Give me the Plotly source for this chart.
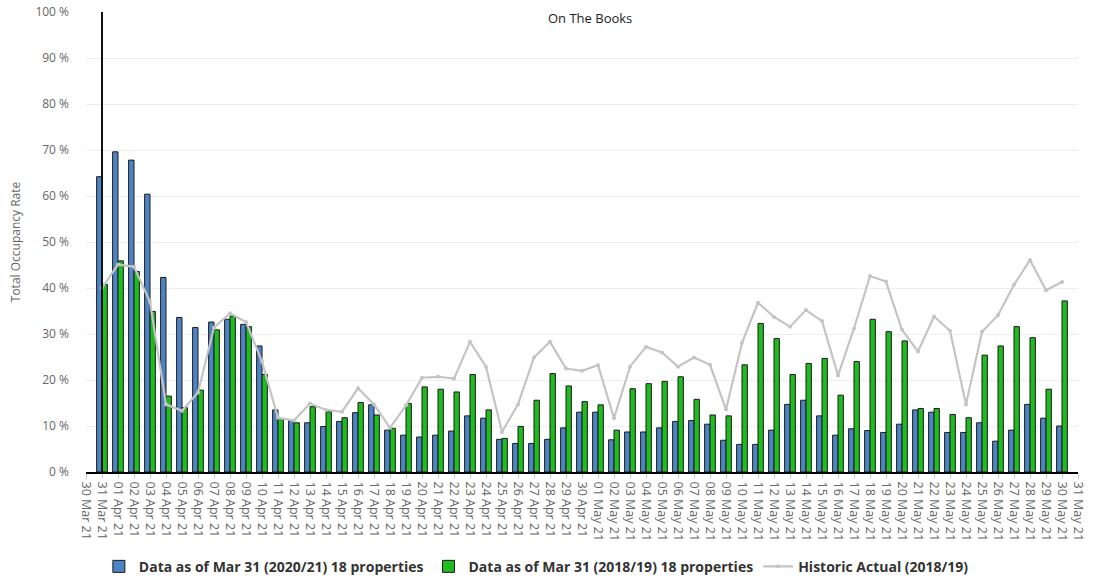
import plotly.graph_objects as go

DATES = [
    "2021-03-31", "2021-04-01", "2021-04-02", "2021-04-03", "2021-04-04", "2021-04-05",
    "2021-04-06", "2021-04-07", "2021-04-08", "2021-04-09", "2021-04-10", "2021-04-11",
    "2021-04-12", "2021-04-13", "2021-04-14", "2021-04-15", "2021-04-16", "2021-04-17",
    "2021-04-18", "2021-04-19", "2021-04-20", "2021-04-21", "2021-04-22", "2021-04-23",
    "2021-04-24", "2021-04-25", "2021-04-26", "2021-04-27", "2021-04-28", "2021-04-29",
    "2021-04-30", "2021-05-01", "2021-05-02", "2021-05-03", "2021-05-04", "2021-05-05",
    "2021-05-06", "2021-05-07", "2021-05-08", "2021-05-09", "2021-05-10", "2021-05-11",
    "2021-05-12", "2021-05-13", "2021-05-14", "2021-05-15", "2021-05-16", "2021-05-17",
    "2021-05-18", "2021-05-19", "2021-05-20", "2021-05-21", "2021-05-22", "2021-05-23",
    "2021-05-24", "2021-05-25", "2021-05-26", "2021-05-27", "2021-05-28", "2021-05-29",
    "2021-05-30",
]

OTB_2021 = [
    64.2, 69.6, 67.8, 60.4, 42.3, 33.6, 31.4, 32.6, 33.2, 32.1, 27.4, 13.5,
    11.3, 10.7, 9.9, 11.0, 12.9, 14.6, 9.1, 8.0, 7.6, 8.0, 8.9, 12.2,
    11.7, 7.1, 6.2, 6.2, 7.1, 9.6, 13.0, 13.0, 7.0, 8.7, 8.7, 9.6,
    11.0, 11.2, 10.4, 6.9, 6.0, 6.0, 9.1, 14.7, 15.6, 12.2, 8.0, 9.4,
    9.0, 8.6, 10.4, 13.5, 13.0, 8.6, 8.6, 10.7, 6.7, 9.1, 14.7, 11.7,
    10.0,
]

OTB_2019 = [
    40.8, 45.9, 43.6, 34.9, 16.5, 14.0, 17.8, 30.9, 33.9, 31.6, 21.2, 11.6,
    10.7, 14.2, 13.1, 11.8, 15.1, 12.4, 9.5, 14.9, 18.5, 18.0, 17.4, 21.2,
    13.5, 7.3, 9.9, 15.6, 21.4, 18.7, 15.3, 14.6, 9.1, 18.1, 19.2, 19.7,
    20.7, 15.8, 12.4, 12.2, 23.3, 32.3, 29.0, 21.2, 23.6, 24.7, 16.7, 24.0,
    33.2, 30.5, 28.5, 13.8, 13.8, 12.5, 11.8, 25.4, 27.4, 31.6, 29.2, 18.0,
    37.2,
]

ACTUAL_2019 = [
    40.0, 45.1, 44.6, 37.0, 14.7, 13.3, 17.3, 31.4, 34.5, 32.6, 24.0, 11.8,
    11.2, 14.9, 13.5, 13.1, 18.2, 14.7, 9.6, 14.5, 20.5, 20.7, 20.3, 28.3,
    22.9, 8.7, 14.7, 24.9, 28.3, 22.5, 22.0, 23.2, 11.7, 22.9, 27.2, 26.0,
    22.9, 24.9, 23.3, 13.6, 28.1, 36.8, 33.7, 31.6, 35.2, 32.8, 21.0, 31.2,
    42.6, 41.4, 30.9, 26.2, 33.8, 30.7, 14.7, 30.5, 34.1, 40.7, 46.1, 39.5,
    41.3,
]

SERIES_NAMES = [
    "Data as of Mar 31 (2020/21) 18 properties",
    "Data as of Mar 31 (2018/19) 18 properties",
    "Historic Actual (2018/19)",
]
AXIS_START = "2021-03-30"
AXIS_END = "2021-05-31"
TODAY = "2021-03-31"
Y_TICKS = [0, 10, 20, 30, 40, 50, 60, 70, 80, 90, 100]
Y_TICK_TEXT = [f"{v} %" for v in Y_TICKS]

FONT = "Open Sans"
GREY = "#666666"

fig = go.Figure()
fig.add_trace(go.Bar(
    x=DATES, y=OTB_2021, name=SERIES_NAMES[0],
    marker=dict(color="#4d84c6", line=dict(color="#1a1a1a", width=1)),
))
fig.add_trace(go.Bar(
    x=DATES, y=OTB_2019, name=SERIES_NAMES[1],
    marker=dict(color="#1fbb1f", line=dict(color="#1a1a1a", width=1)),
))
fig.add_trace(go.Scatter(
    x=DATES, y=ACTUAL_2019, name=SERIES_NAMES[2], mode="lines+markers",
    line=dict(color="#c4c4c4", width=2.2),
    marker=dict(color="#c4c4c4", size=4),
))

fig.add_shape(
    type="line", xref="x", yref="y", x0=TODAY, x1=TODAY, y0=0, y1=100,
    line=dict(color="#111111", width=2), layer="above",
)

fig.update_layout(
    width=1099, height=579,
    margin=dict(l=86, r=21, t=12, b=107, autoexpand=False),
    paper_bgcolor="white", plot_bgcolor="white",
    barmode="group", bargap=0.33, bargroupgap=0,
    font=dict(family=FONT, color=GREY),
    title=dict(
        text="On The Books", x=0.537, xanchor="center", y=1 - 18 / 579,
        yanchor="middle", font=dict(family=FONT, size=13, color="#222222"),
        automargin=False,
    ),
    showlegend=True,
    legend=dict(
        orientation="h", x=0.454, xanchor="center", y=-0.206, yanchor="middle",
        font=dict(family=FONT, size=14, color="#333333", weight="bold"),
        itemwidth=30, traceorder="normal",
    ),
    xaxis=dict(
        type="date", range=[AXIS_START, AXIS_END], automargin=False,
        tick0=AXIS_START, dtick=86400000, tickformat="%d %b %y",
        tickangle=90, tickfont=dict(family=FONT, size=12.5, color=GREY),
        ticks="outside", ticklen=5, tickcolor="#cccccc",
        showgrid=False, showline=True, linecolor="#000000", linewidth=2,
        zeroline=False,
    ),
    yaxis=dict(
        range=[0, 100], tickvals=Y_TICKS, ticktext=Y_TICK_TEXT, automargin=False,
        tickfont=dict(family=FONT, size=12, color=GREY),
        showgrid=True, gridcolor="#eeeeee", gridwidth=1,
        zeroline=False, showline=False, ticklabelstandoff=16,
        title=dict(text="Total Occupancy Rate", standoff=12,
                   font=dict(family=FONT, size=12, color=GREY)),
    ),
)

fig.write_html(
    "out.html",
    config={"displayModeBar": False},
    post_script="document.body.style.margin='0';",
)
